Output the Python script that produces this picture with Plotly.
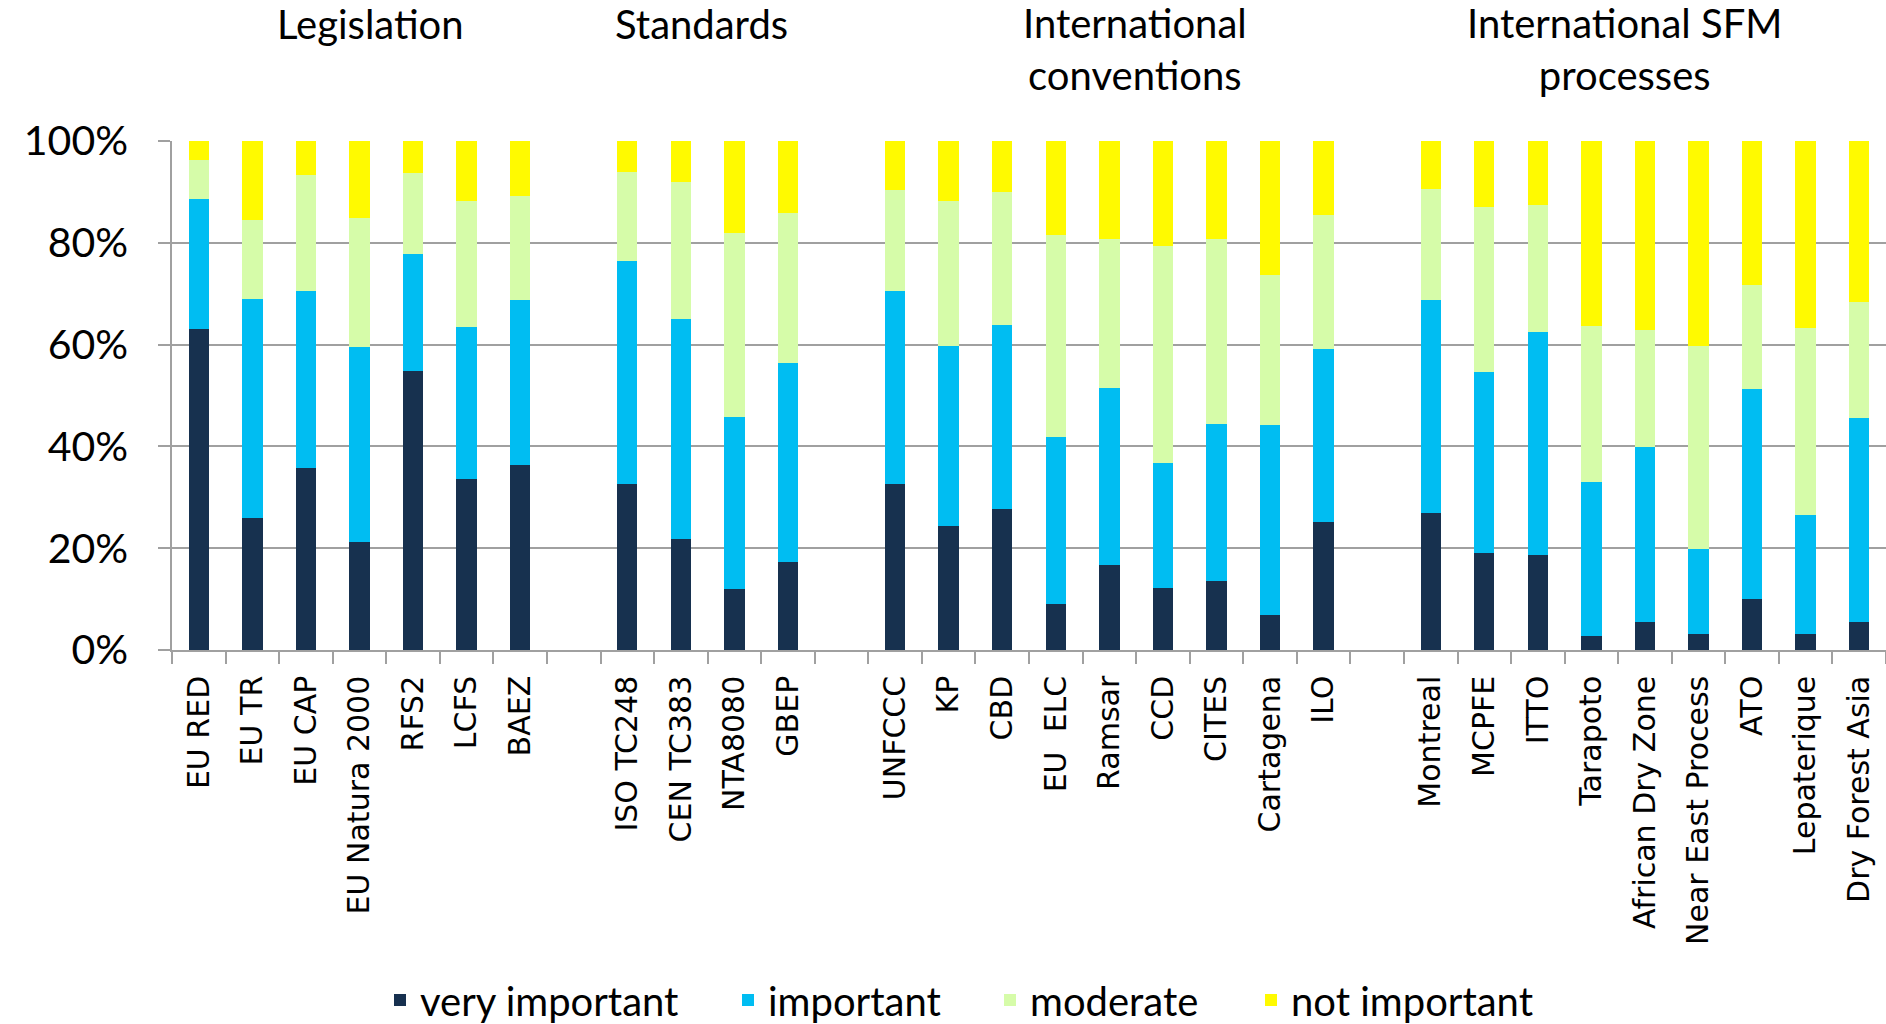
import plotly.graph_objects as go

categories = ["EU RED", "EU TR", "EU CAP", "EU Natura 2000", "RFS2", "LCFS", "BAEZ", " ",
              "ISO TC248", "CEN TC383", "NTA8080", "GBEP", "  ",
              "UNFCCC", "KP", "CBD", "EU\u00a0\u00a0ELC", "Ramsar", "CCD", "CITES", "Cartagena", "ILO", "   ",
              "Montreal", "MCPFE", "ITTO", "Tarapoto", "African Dry Zone", "Near East Process",
              "ATO", "Lepaterique", "Dry Forest Asia"]

very_important = [63.1, 26.0, 35.7, 21.3, 54.8, 33.6, 36.3, None,
                  32.7, 21.9, 11.9, 17.2, None,
                  32.7, 24.3, 27.7, 9.0, 16.7, 12.1, 13.6, 6.8, 25.1, None,
                  26.9, 19.1, 18.6, 2.8, 5.5, 3.2, 10.0, 3.2, 5.5]
important = [25.5, 43.0, 34.9, 38.2, 23.0, 29.8, 32.5, None,
             43.7, 43.1, 33.8, 39.1, None,
             37.9, 35.5, 36.2, 32.9, 34.8, 24.7, 30.9, 37.5, 34.0, None,
             41.8, 35.5, 43.8, 30.3, 34.4, 16.6, 41.2, 23.3, 40.0]
moderate = [7.7, 15.4, 22.7, 25.3, 16.0, 24.9, 20.3, None,
            17.6, 26.9, 36.2, 29.5, None,
            19.8, 28.5, 26.1, 39.6, 29.3, 42.6, 36.3, 29.3, 26.3, None,
            21.8, 32.4, 25.1, 30.5, 22.9, 40.0, 20.5, 36.8, 22.9]
not_important = [3.7, 15.6, 6.7, 15.2, 6.2, 11.7, 10.9, None,
                 6.0, 8.1, 18.1, 14.2, None,
                 9.6, 11.7, 10.0, 18.5, 19.2, 20.6, 19.2, 26.4, 14.6, None,
                 9.5, 13.0, 12.5, 36.4, 37.2, 40.2, 28.3, 36.7, 31.6]

series_names = ["very important", "important", "moderate", "not important"]
series_values = [very_important, important, moderate, not_important]
series_colors = ["#17314f", "#00bdf2", "#d6fca9", "#fffa00"]

y_tick_values = [0, 20, 40, 60, 80, 100]
y_tick_labels = ["0%", "20%", "40%", "60%", "80%", "100%"]

group_titles = ["Legislation", "Standards", "International<br>conventions", "International SFM<br>processes"]
group_title_px = [370, 701, 1135, 1624]
group_title_py = [24, 24, 49, 49]

# left edge (px) of each legend entry
legend_px = [380, 728, 990, 1251]

W, H = 1886, 1024
ML, MR, MT, MB = 172, 0, 141, 374
PW, PH = W - ML - MR, H - MT - MB

TITLE_FONT = "Lato, 'Open Sans', sans-serif"

fig = go.Figure()
legend_ids = ["legend", "legend2", "legend3", "legend4"]
for name, vals, col, lid in zip(series_names, series_values, series_colors, legend_ids):
    fig.add_trace(go.Bar(x=categories, y=vals, name=name, legend=lid,
                         marker=dict(color=col, line=dict(width=0))))

for t, px, py in zip(group_titles, group_title_px, group_title_py):
    fig.add_annotation(text=t, xref="paper", yref="paper",
                       x=(px - ML) / PW, y=(H - MB - py) / PH,
                       xanchor="center", yanchor="middle", showarrow=False,
                       font=dict(family=TITLE_FONT, size=40, color="black"))

legend_layouts = {}
for lid, px in zip(legend_ids, legend_px):
    legend_layouts[lid] = dict(orientation="h", x=(px - ML) / PW, xanchor="left",
                               y=(H - MB - 1000) / PH, yanchor="middle",
                               font=dict(family=TITLE_FONT, size=40, color="black"),
                               itemwidth=30, bgcolor="rgba(0,0,0,0)")

fig.update_layout(
    width=W, height=H,
    margin=dict(l=ML, r=MR, t=MT, b=MB, autoexpand=False),
    barmode="stack", bargap=0.62,
    plot_bgcolor="white", paper_bgcolor="white",
    showlegend=True,
    **legend_layouts,
    xaxis=dict(type="category", categoryorder="array", categoryarray=categories,
               tickangle=-90, tickson="boundaries", ticks="outside", ticklen=12,
               tickcolor="#a0a0a0", tickwidth=1.5,
               showline=True, linecolor="#a0a0a0", linewidth=1.5,
               showgrid=False, automargin=False, ticklabelstandoff=12,
               tickfont=dict(family="DejaVu Sans", size=30, color="black"),
               range=[-0.5, len(categories) - 0.5]),
    yaxis=dict(range=[0, 100], tickmode="array", tickvals=y_tick_values, ticktext=y_tick_labels,
               ticks="outside", ticklen=12, tickcolor="#a0a0a0", tickwidth=1.5,
               showline=True, linecolor="#a0a0a0", linewidth=1.5,
               showgrid=True, gridcolor="#a0a0a0", gridwidth=1.5,
               zeroline=False, automargin=False, ticklabelstandoff=22,
               tickfont=dict(family=TITLE_FONT, size=41, color="black")),
)

fig.write_html("out.html")
